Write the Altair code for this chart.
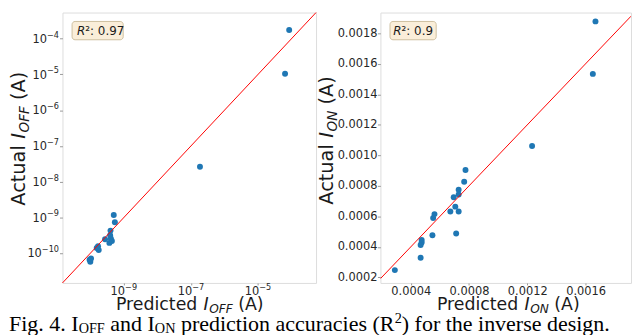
import altair as alt
import pandas as pd

# ---------------- data ----------------
off_pred = [8.5e-5, 6.4e-5, 1.86e-7, 5.0e-10, 5.4e-10, 4.0e-10, 3.9e-10, 4.1e-10, 3.7e-10,
            4.4e-10, 2.75e-10, 1.7e-10, 1.55e-10, 1.78e-10, 1.05e-10, 1.0e-10, 9.5e-11]
off_act = [1.74e-4, 1.05e-5, 2.63e-8, 1.17e-9, 7.4e-10, 4.3e-10, 3.2e-10, 2.6e-10, 1.95e-10,
           2.2e-10, 2.45e-10, 1.58e-10, 1.41e-10, 1.23e-10, 7.1e-11, 5.8e-11, 6.6e-11]

on_pred = [0.001668, 0.00165, 0.001233, 0.000776, 0.000767, 0.000729, 0.000729, 0.000695,
           0.000706, 0.000672, 0.000729, 0.000712, 0.000563, 0.000554, 0.000549, 0.000475,
           0.000475, 0.000468, 0.000468, 0.000291]
on_act = [0.001878, 0.001534, 0.001061, 0.000904, 0.000827, 0.000775, 0.000743, 0.000726,
          0.000664, 0.000632, 0.000632, 0.000488, 0.000615, 0.00059, 0.000477, 0.000445,
          0.000429, 0.000413, 0.000329, 0.000248]

off_domain = [10 ** -10.83, 10 ** -3.27]
on_x_domain = [0.000192, 0.001912]
on_y_domain = [0.000164, 0.001936]

off_y_ticks = [1e-10, 1e-9, 1e-8, 1e-7, 1e-6, 1e-5, 1e-4]
off_x_ticks = [1e-9, 1e-7, 1e-5]
on_y_ticks = [0.0002, 0.0004, 0.0006, 0.0008, 0.0010, 0.0012, 0.0014, 0.0016, 0.0018]
on_x_ticks = [0.0004, 0.0008, 0.0012, 0.0016]

r2_off = "0.97"
r2_on = "0.9"

# ---------------- helpers ----------------
W_L, W_R, H = 256, 253, 273
BLUE = "#1f77b4"
SANS = "DejaVu Sans"
SERIF = "Liberation Serif"
LABEL_COLOR = "#262626"
LFS = 11.5           # tick label font size
EFS = 8.2            # exponent font size
one = pd.DataFrame({"k": [0]})

DJ = {'A': 1401, 'c': 1126, 't': 803, 'u': 1298, 'a': 1255, 'l': 569, ' ': 651, 'I': 604,
      'O': 1612, 'F': 1178, 'N': 1532, '(': 799, ')': 799, 'P': 1235, 'r': 842, 'e': 1260,
      'd': 1300, 'i': 569, 'R': 1423, '0': 1303, '1': 1303, '2': 1303, '3': 1303,
      '4': 1303, '5': 1303, '6': 1303, '7': 1303, '8': 1303, '9': 1303, '−': 1716}
TM = {'F': 556, 'i': 278, 'g': 500, '.': 250, ' ': 250, '4': 500, 'I': 333, 'O': 722,
      'N': 722, 'a': 444, 'n': 500, 'd': 500, 'p': 500, 'r': 333, 'e': 444, 'c': 444,
      't': 278, 'o': 500, 'u': 500, 's': 389, '(': 333, 'R': 667, ')': 333, 'f': 333,
      'h': 500, 'v': 500, '2': 500}


def wdj(s, size):
    return sum(DJ[c] for c in s) / 2048 * size


def wtm(s, size):
    return sum(TM[c] for c in s) / 1000 * size


def txt(s, x, y, size, font=SANS, style="normal", angle=0, color="#1a1a1a", align="left",
        baseline="alphabetic"):
    return alt.Chart(one).mark_text(
        text=s, fontSize=size, font=font, fontStyle=style, angle=angle, color=color,
        align=align, baseline=baseline
    ).encode(x=alt.value(x), y=alt.value(y))


def x_title(x0, y0, sub, size=17.5):
    out = []
    x = x0
    out.append(txt("Predicted", x, y0, size))
    x += wdj("Predicted ", size)
    out.append(txt("I", x, y0, size, style="italic"))
    x += wdj("I", size) + 0.6
    ss = size * 0.7
    out.append(txt(sub, x, y0 + 3.5, ss, style="italic"))
    x += wdj(sub, ss) + wdj(" ", size)
    out.append(txt("(A)", x, y0, size))
    return out


def y_title(xb, y0, sub, size=19.5):
    out = []
    y = y0
    out.append(txt("Actual", xb, y, size, angle=270))
    y -= wdj("Actual ", size)
    out.append(txt("I", xb, y, size, style="italic", angle=270))
    y -= wdj("I", size) + 0.6
    ss = size * 0.7
    out.append(txt(sub, xb + 4, y, ss, style="italic", angle=270))
    y -= wdj(sub, ss) + wdj(" ", size)
    out.append(txt("(A)", xb, y, size, angle=270))
    return out


def r2_box(x1, x2, tx, value):
    box = alt.Chart(one).mark_rect(
        fill="#faeed9", stroke="#cdbf9f", strokeWidth=1, cornerRadius=3
    ).encode(x=alt.value(x1), x2=alt.value(x2), y=alt.value(9), y2=alt.value(27.5))
    size = 12
    t1 = txt("R", tx, 22.5, size, style="italic")
    t2 = txt("²: " + value, tx + wdj("R", size), 22.5, size)
    return [box, t1, t2]


EXP = "round(log(datum.v)/LN10)"

axis_common = dict(title=None, grid=False, domain=False, tickSize=3, tickColor="#9a9a9a",
                   labelFont=SANS, labelFontSize=LFS, labelColor=LABEL_COLOR,
                   labelOverlap=False)

off_x_axis = alt.Axis(values=off_x_ticks, labels=False, **{**axis_common, "tickSize": 2})
off_y_axis = alt.Axis(values=off_y_ticks, labels=False, **axis_common)


def log_y_labels(ticks, scale, field, axis):
    """'10' plus superscript exponent, right-aligned at the axis, through the y scale."""
    layers = []
    tk = pd.DataFrame({field: ticks})
    for nd in (1, 2):
        ew = wdj("−", EFS) + nd * wdj("0", EFS)
        xa = -3.5 - ew
        base = alt.Chart(tk).transform_calculate(
            v=f"datum['{field}']"
        ).transform_calculate(
            es=f"'−' + abs({EXP})", nd=f"length(toString(abs({EXP})))"
        ).transform_filter(f"datum.nd == {nd}")
        y = alt.Y(f"{field}:Q", scale=scale, axis=axis)
        layers.append(base.mark_text(text="10", align="right", baseline="alphabetic",
                                     fontSize=LFS, font=SANS, color=LABEL_COLOR, dy=4.2)
                      .encode(y=y, x=alt.value(xa)))
        layers.append(base.mark_text(align="left", baseline="alphabetic", fontSize=EFS,
                                     font=SANS, color=LABEL_COLOR, dy=-1.0)
                      .encode(y=y, x=alt.value(xa), text="es:N"))
    return layers


def log_x_labels(ticks, scale, field, ybase, axis):
    tk = pd.DataFrame({field: ticks})
    w10 = wdj("10", LFS)
    ew = wdj("−", EFS) + wdj("0", EFS)
    tot = w10 + ew
    base = alt.Chart(tk).transform_calculate(v=f"datum['{field}']").transform_calculate(
        es=f"'−' + abs({EXP})")
    x = alt.X(f"{field}:Q", scale=scale, axis=axis)
    return [
        base.mark_text(text="10", align="left", baseline="alphabetic", fontSize=LFS,
                       font=SANS, color=LABEL_COLOR, dx=-tot / 2)
        .encode(x=x, y=alt.value(ybase)),
        base.mark_text(align="left", baseline="alphabetic", fontSize=EFS, font=SANS,
                       color=LABEL_COLOR, dx=-tot / 2 + w10)
        .encode(x=x, y=alt.value(ybase - 5.2), text="es:N"),
    ]


# ---------------- left panel (I_OFF, log-log) ----------------
df_off = pd.DataFrame({"pred": off_pred, "act": off_act})
line_off = pd.DataFrame({"pred": off_domain, "act": off_domain})

xs_l = alt.Scale(type="log", domain=off_domain, nice=False)
ys_l = alt.Scale(type="log", domain=off_domain, nice=False)

pts_l = alt.Chart(df_off).mark_circle(size=36, color=BLUE, opacity=1).encode(
    x=alt.X("pred:Q", scale=xs_l, axis=off_x_axis),
    y=alt.Y("act:Q", scale=ys_l, axis=off_y_axis),
)
ln_l = alt.Chart(line_off).mark_line(color="red", strokeWidth=1).encode(
    x=alt.X("pred:Q", scale=xs_l, axis=off_x_axis),
    y=alt.Y("act:Q", scale=ys_l, axis=off_y_axis),
)

left_texts = []
left_texts += log_y_labels(off_y_ticks, ys_l, "act", off_y_axis)
left_texts += log_x_labels(off_x_ticks, xs_l, "pred", H + 12, off_x_axis)
left_texts += r2_box(9.7, 61.3, 14.7, r2_off)
left_texts += x_title(54, 300, "OFF")
left_texts += y_title(-37.5, 195, "OFF")

# caption (placed in left panel coordinates)
CS = 22.2
CSS = 14.4
cx = -54
cy = 321.5
cap = []
cap.append(txt("Fig. 4. I", cx, cy, CS, font=SERIF, color="#000"))
cx += wtm("Fig. 4. I", CS)
cap.append(txt("OFF", cx, cy + 2, CSS, font=SERIF, color="#000"))
cx += wtm("OFF", CSS) + wtm(" ", CS)
cap.append(txt("and I", cx, cy, CS, font=SERIF, color="#000"))
cx += wtm("and I", CS)
cap.append(txt("ON", cx, cy + 2, CSS, font=SERIF, color="#000"))
cx += wtm("ON", CSS) + wtm(" ", CS)
cap.append(txt("prediction accuracies (R", cx, cy, CS, font=SERIF, color="#000"))
cx += wtm("prediction accuracies (R", CS)
cap.append(txt("2", cx, cy - 8, CSS, font=SERIF, color="#000"))
cx += wtm("2", CSS)
cap.append(txt(") for the inverse design.", cx, cy, CS, font=SERIF, color="#000"))

left = alt.layer(pts_l, ln_l, *left_texts, *cap).properties(width=W_L, height=H)

# ---------------- right panel (I_ON, linear) ----------------
df_on = pd.DataFrame({"pred": on_pred, "act": on_act})
line_on = pd.DataFrame({"pred": on_x_domain, "act": on_x_domain})

xs_r = alt.Scale(domain=on_x_domain, nice=False, zero=False)
ys_r = alt.Scale(domain=on_y_domain, nice=False, zero=False)

on_x_axis = alt.Axis(values=on_x_ticks, format=".4f", labelPadding=1,
                     **{**axis_common, "tickSize": 2})
on_y_axis = alt.Axis(values=on_y_ticks, format=".4f", labelPadding=0.5, **axis_common)

pts_r = alt.Chart(df_on).mark_circle(size=36, color=BLUE, opacity=1).encode(
    x=alt.X("pred:Q", scale=xs_r, axis=on_x_axis),
    y=alt.Y("act:Q", scale=ys_r, axis=on_y_axis),
)
ln_r = alt.Chart(line_on).mark_line(color="red", strokeWidth=1, clip=True).encode(
    x=alt.X("pred:Q", scale=xs_r, axis=on_x_axis),
    y=alt.Y("act:Q", scale=ys_r, axis=on_y_axis),
)

right_texts = []
right_texts += r2_box(9.7, 56.3, 13.0, r2_on)
right_texts += x_title(57, 300, "ON")
right_texts += y_title(-47.5, 194, "ON")

right = alt.layer(pts_r, ln_r, *right_texts).properties(width=W_R, height=H)

chart = alt.hconcat(left, right, spacing=65, bounds="flush").properties(
    padding=0
).configure_view(stroke="#a6a6a6", strokeWidth=1).configure(font=SANS)

chart.save("out.html", embed_options={"renderer": "svg", "actions": False})
